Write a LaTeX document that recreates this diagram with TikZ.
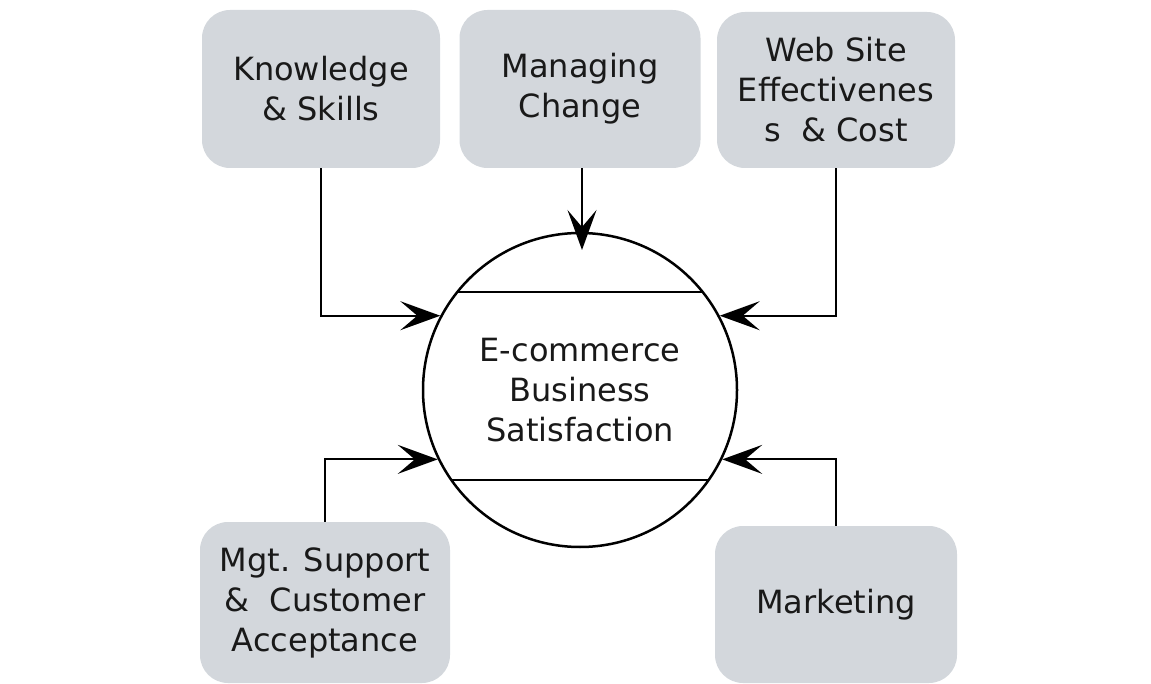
\documentclass[tikz,border=0pt]{standalone}
\usepackage{fontspec}
\setmainfont{DejaVu Sans}
\usetikzlibrary{arrows.meta}
\definecolor{boxgray}{RGB}{211,215,220}
\definecolor{txt}{RGB}{25,25,25}
\begin{document}
\begin{tikzpicture}[x=1pt,y=-1pt,
  factor/.style={rectangle, rounded corners=28pt, fill=boxgray, draw=none,
    align=center, text=txt, inner sep=0pt,
    font=\fontsize{32}{40}\selectfont},
  hub/.style={circle, draw=black, line width=2.5pt, inner sep=0pt,
    minimum size=314pt, align=center, text=txt,
    font=\fontsize{32}{40}\selectfont},
  chord/.style={draw=black, line width=2pt},
  arr/.style={draw=black, line width=2pt,
    -{Stealth[length=40pt,width=29pt,inset=17pt]}}
]
\useasboundingbox (0,0) rectangle (1151,684);

\node[factor, minimum width=238pt, minimum height=158pt] (ks) at (321,89)
  {Knowledge\\\& Skills};
\node[factor, minimum width=241pt, minimum height=158pt] (mc) at (580,89)
  {Managing\\Change};
\node[factor, minimum width=238pt, minimum height=156pt] (ws) at (836,90)
  {Web Site\\Effectivenes\\s\ \ \& Cost};
\node[factor, minimum width=250pt, minimum height=161pt] (ms) at (325,602.5)
  {Mgt. Support\\\&\ \ Customer\\Acceptance};
\node[factor, minimum width=242pt, minimum height=157pt] (mk) at (836,604.5)
  {Marketing};

\node[hub] (ec) at (580,390) {E-commerce\\Business\\Satisfaction};

% chords inside the circle
\draw[chord] ([shift={(-122.7,-98)}]ec.center) -- ([shift={(122.7,-98)}]ec.center);
\draw[chord] ([shift={(-128.6,90)}]ec.center) -- ([shift={(128.6,90)}]ec.center);

% connectors
\coordinate (ctop) at (582,250);
\draw[arr] (mc.south -| ctop) -- (ctop);
\draw[arr] (ks.south) -- (ks.south |- ec.152) -- (ec.152);
\draw[arr] (ws.south) -- (ws.south |- ec.28) -- (ec.28);
\draw[arr] (ms.north) -- (ms.north |- ec.206) -- (ec.206);
\draw[arr] (mk.north) -- (mk.north |- ec.334) -- (ec.334);
\end{tikzpicture}
\end{document}
